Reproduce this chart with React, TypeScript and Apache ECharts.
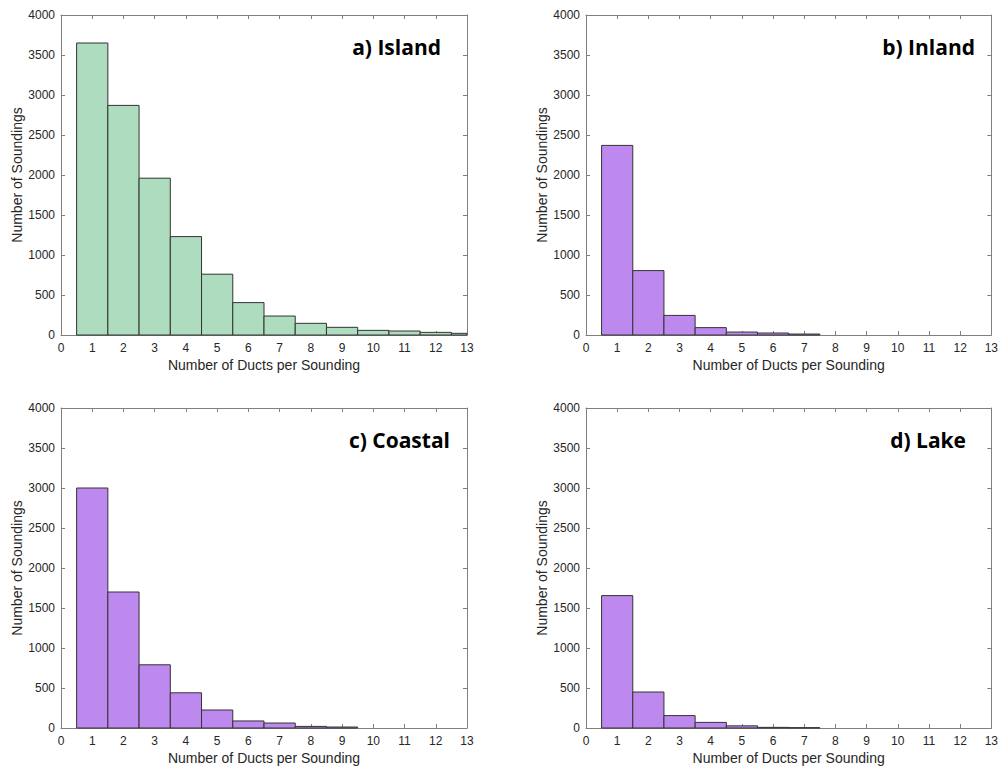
import React, { useEffect, useRef } from "react";
import * as echarts from "echarts";

const ductCounts = [1, 2, 3, 4, 5, 6, 7, 8, 9, 10, 11, 12, 13];
const islandValues = [3650, 2870, 1960, 1230, 760, 405, 237, 146, 96, 58, 50, 33, 21];
const inlandValues = [2370, 805, 245, 92, 37, 25, 12, 0, 0, 0, 0, 0, 0];
const coastalValues = [3000, 1700, 790, 440, 225, 88, 62, 20, 12, 0, 0, 0, 0];
const lakeValues = [1655, 450, 155, 70, 27, 8, 4, 0, 0, 0, 0, 0, 0];

const panelTitles = ["a) Island", "b) Inland", "c) Coastal", "d) Lake"];
const xTickMin = 0;
const xTickMax = 13;
const yTickMax = 4000;
const yTickStep = 500;
const xAxisName = "Number of Ducts per Sounding";
const yAxisName = "Number of Soundings";

const GREEN = "#aedcbf";
const PURPLE = "#be89ee";

export default function App() {
  const ref = useRef<HTMLDivElement>(null);
  useEffect(() => {
    if (!ref.current) return;
    const chart = echarts.init(ref.current, null, { renderer: "svg" });
    const grids = [
      { left: 61, top: 15, width: 406, height: 320 },
      { left: 586, top: 15, width: 406, height: 320 },
      { left: 61, top: 408, width: 406, height: 320 },
      { left: 586, top: 408, width: 406, height: 320 },
    ];
    const allValues = [islandValues, inlandValues, coastalValues, lakeValues];
    const fills = [GREEN, PURPLE, PURPLE, PURPLE];
    const titlePos = [
      { right: 441, y: 47 },
      { right: 975, y: 47 },
      { right: 450, y: 440 },
      { right: 966, y: 440 },
    ];
    const axisColor = "#808080";
    const labelColor = "#262626";
    const font = "'Liberation Sans', Arial, sans-serif";
    const plain = (v: number) => String(v);

    const xAxes: any[] = [];
    const yAxes: any[] = [];
    grids.forEach((_, i) => {
      xAxes.push({
        type: "value",
        gridIndex: i,
        min: xTickMin,
        max: xTickMax,
        interval: 1,
        position: "bottom",
        name: xAxisName,
        nameLocation: "middle",
        nameGap: 23,
        nameTextStyle: { fontFamily: font, fontSize: 14, color: labelColor },
        axisLine: { show: true, lineStyle: { color: axisColor, width: 1 } },
        axisTick: { show: true, inside: true, length: 4, lineStyle: { color: axisColor } },
        axisLabel: { show: true, margin: 7, fontFamily: font, fontSize: 12, color: labelColor, formatter: plain },
        splitLine: { show: false },
      });
      yAxes.push({
        type: "value",
        gridIndex: i,
        min: 0,
        max: yTickMax,
        interval: yTickStep,
        position: "left",
        name: yAxisName,
        nameLocation: "middle",
        nameGap: 37,
        nameTextStyle: { fontFamily: font, fontSize: 14, color: labelColor },
        axisLine: { show: true, lineStyle: { color: axisColor, width: 1 } },
        axisTick: { show: true, inside: true, length: 4, lineStyle: { color: axisColor } },
        axisLabel: { show: true, margin: 6, fontFamily: font, fontSize: 12, color: labelColor, formatter: plain },
        splitLine: { show: false },
      });
    });
    grids.forEach((_, i) => {
      xAxes.push({
        type: "value",
        gridIndex: i,
        min: xTickMin,
        max: xTickMax,
        interval: 1,
        position: "top",
        axisLine: { show: true, onZero: false, lineStyle: { color: axisColor, width: 1 } },
        axisTick: { show: true, inside: true, length: 4, lineStyle: { color: axisColor } },
        axisLabel: { show: false },
        splitLine: { show: false },
      });
      yAxes.push({
        type: "value",
        gridIndex: i,
        min: 0,
        max: yTickMax,
        interval: yTickStep,
        position: "right",
        axisLine: { show: true, onZero: false, lineStyle: { color: axisColor, width: 1 } },
        axisTick: { show: true, inside: true, length: 4, lineStyle: { color: axisColor } },
        axisLabel: { show: false },
        splitLine: { show: false },
      });
    });

    const series = allValues.map((vals, i) => ({
      type: "custom",
      xAxisIndex: i,
      yAxisIndex: i,
      data: ductCounts.map((d, k) => [d, vals[k]]),
      renderItem: (params: any, api: any) => {
        const x = api.value(0);
        const y = api.value(1);
        if (!(y > 0)) return null;
        const p0 = api.coord([x - 0.5, y]);
        const p1 = api.coord([x + 0.5, 0]);
        const cs = params.coordSys;
        const rect = echarts.graphic.clipRectByRect(
          { x: p0[0], y: p0[1], width: p1[0] - p0[0], height: p1[1] - p0[1] },
          { x: cs.x, y: cs.y, width: cs.width, height: cs.height }
        );
        if (!rect) return null;
        return {
          type: "rect",
          shape: rect,
          style: { fill: fills[i], stroke: "#333333", lineWidth: 1 },
        };
      },
      z: 1,
    }));

    const graphics = panelTitles.map((t, i) => ({
      type: "text",
      x: titlePos[i].right,
      y: titlePos[i].y,
      z: 10,
      style: {
        text: t,
        fill: "#000000",
        font: "bold 21px 'Open Sans', 'Liberation Sans', sans-serif",
        textAlign: "right",
        textVerticalAlign: "middle",
      },
    }));

    chart.setOption({
      animation: false,
      backgroundColor: "#ffffff",
      grid: grids.map((g) => ({ ...g, containLabel: false })),
      xAxis: xAxes,
      yAxis: yAxes,
      series,
      graphic: graphics,
    });
    return () => chart.dispose();
  }, []);
  return (
    <div
      ref={ref}
      style={{ position: "fixed", left: 0, top: 0, width: 1001, height: 766 }}
    />
  );
}
